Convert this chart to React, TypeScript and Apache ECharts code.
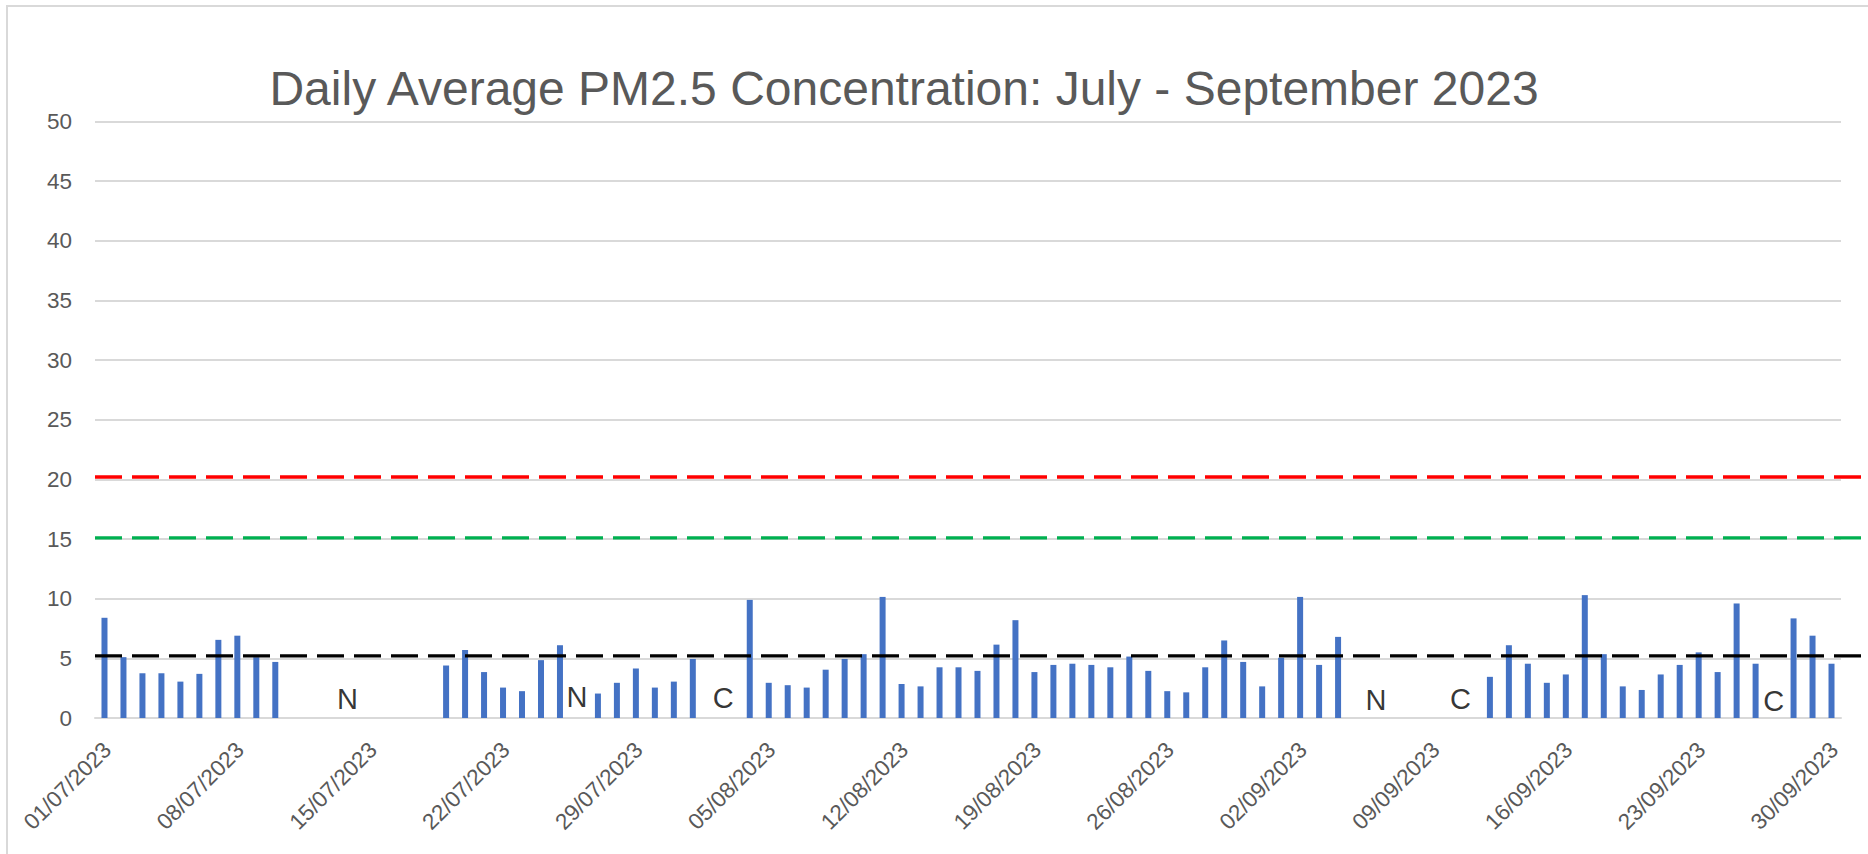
import React, { useEffect, useRef } from "react";
import * as echarts from "echarts";

const TITLE = "Daily Average PM2.5 Concentration: July - September 2023";
const FONT = "Liberation Sans";

// Daily averages (µg/m³); null = no data (N / C periods)
const julyValues: (number | null)[] = [
  8.4, 5.1, 3.75, 3.75, 3.05, 3.7, 6.55, 6.9, 5.1, 4.7,
  null, null, null, null, null, null, null, null,
  4.4, 5.7, 3.85, 2.55, 2.25, 4.85, 6.1, null,
  2.05, 2.95, 4.15, 2.55, 3.05,
];
const augustValues: (number | null)[] = [
  4.95, null, null, 9.9, 2.95, 2.75, 2.55, 4.05, 4.95, 5.35,
  10.15, 2.85, 2.65, 4.25, 4.25, 3.95, 6.15, 8.2, 3.85, 4.45,
  4.55, 4.45, 4.25, 5.15, 3.95, 2.25, 2.15, 4.25, 6.5, 4.7,
  2.65,
];
const septemberValues: (number | null)[] = [
  5.05, 10.15, 4.45, 6.8, null, null, null, null, null, null,
  null, 3.45, 6.1, 4.55, 2.95, 3.65, 10.3, 5.35, 2.65, 2.35,
  3.65, 4.45, 5.5, 3.85, 9.6, 4.55, null, 8.35, 6.9, 4.55,
];

const months = [
  { mm: "07", values: julyValues },
  { mm: "08", values: augustValues },
  { mm: "09", values: septemberValues },
];

const thresholds = [
  { value: 20.2, color: "#FF0000" },
  { value: 15.1, color: "#00B050" },
  { value: 5.2, color: "#000000" },
];

// annotation text and position in day-index units (0 = 01/07)
const annotations = [
  { text: "N", pos: 12.8, y: 1.6 },
  { text: "N", pos: 24.9, y: 1.8 },
  { text: "C", pos: 32.6, y: 1.65 },
  { text: "N", pos: 67.0, y: 1.5 },
  { text: "C", pos: 71.45, y: 1.6 },
  { text: "C", pos: 87.95, y: 1.4 },
];

const Y_MIN = 0;
const Y_MAX = 50;
const Y_STEP = 5;

const dates: string[] = [];
const values: (number | null)[] = [];
months.forEach((m) => {
  m.values.forEach((v, i) => {
    dates.push(`${String(i + 1).padStart(2, "0")}/${m.mm}/2023`);
    values.push(v);
  });
});

export default function App() {
  const ref = useRef<HTMLDivElement>(null);
  useEffect(() => {
    document.body.style.margin = "0";
    if (!ref.current) return;
    const chart = echarts.init(ref.current, undefined, { renderer: "svg" });
    const gridPos = { left: 95, right: 27, top: 121.5, bottom: 136 };
    chart.setOption({
      animation: false,
      backgroundColor: "#ffffff",
      textStyle: { fontFamily: FONT },
      graphic: [
        {
          type: "rect",
          shape: { x: 7, y: 6, width: 1900, height: 900 },
          style: { fill: "none", stroke: "#d9d9d9", lineWidth: 2 },
          silent: true,
        },
        {
          type: "text",
          x: 904,
          y: 88.5,
          style: {
            text: TITLE,
            fill: "#595959",
            font: `48px "${FONT}"`,
            align: "center",
            verticalAlign: "middle",
          },
        },
      ],
      grid: [
        { ...gridPos },
        { left: 95, right: 0, top: 121.5, bottom: 136 },
      ],
      xAxis: [
        {
          type: "category",
          gridIndex: 0,
          data: dates,
          boundaryGap: true,
          axisLine: { lineStyle: { color: "#d9d9d9", width: 2 } },
          axisTick: {
            interval: 6,
            length: 7,
            lineStyle: { color: "#d9d9d9", width: 2 },
          },
          axisLabel: {
            interval: 6,
            rotate: 45,
            margin: 31,
            padding: [0, -4, 0, 0],
            fontSize: 22.5,
            color: "#595959",
            fontFamily: FONT,
            hideOverlap: false,
          },
          splitLine: { show: false },
        },
        {
          type: "value",
          gridIndex: 0,
          min: -0.5,
          max: dates.length - 0.5,
          show: false,
        },
        { type: "value", gridIndex: 1, min: 0, max: 1, show: false },
      ],
      yAxis: [
        {
          type: "value",
          gridIndex: 0,
          min: Y_MIN,
          max: Y_MAX,
          interval: Y_STEP,
          axisLine: { show: false },
          axisTick: { show: false },
          axisLabel: {
            margin: 23,
            fontSize: 22.5,
            color: "#595959",
            fontFamily: FONT,
          },
          splitLine: { lineStyle: { color: "#d9d9d9", width: 2 } },
        },
        { type: "value", gridIndex: 1, min: Y_MIN, max: Y_MAX, show: false },
      ],
      series: [
        {
          type: "bar",
          xAxisIndex: 0,
          yAxisIndex: 0,
          data: values,
          barWidth: 6,
          itemStyle: { color: "#4472C4" },
        },
        ...thresholds.map((t) => ({
          type: "line",
          xAxisIndex: 2,
          yAxisIndex: 1,
          data: [
            [0, t.value],
            [1, t.value],
          ],
          symbol: "none",
          silent: true,
          lineStyle: { color: t.color, width: 3.3, type: [27, 10] },
        })),
        {
          type: "scatter",
          xAxisIndex: 1,
          yAxisIndex: 0,
          symbolSize: 1,
          itemStyle: { color: "rgba(0,0,0,0)" },
          data: annotations.map((a) => ({ value: [a.pos, a.y], name: a.text })),
          label: {
            show: true,
            position: "inside",
            formatter: (p: any) => p.name,
            fontSize: 29,
            color: "#000000",
            fontFamily: FONT,
          },
        },
      ],
    });
    return () => chart.dispose();
  }, []);
  return <div ref={ref} style={{ width: 1868, height: 854 }} />;
}
